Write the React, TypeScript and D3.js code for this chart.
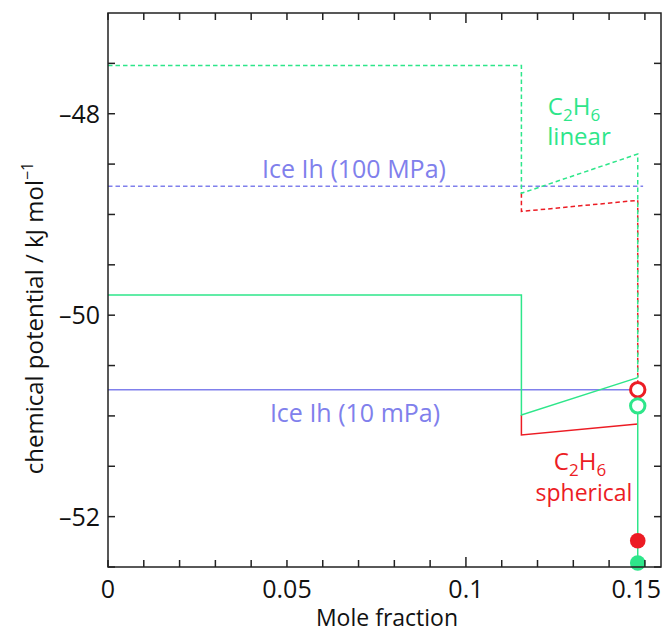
import { useEffect, useRef } from "react";
import * as d3 from "d3";

// x break points of the step curves
const xBreak = 0.1155;
const xEnd = 0.148;

// [mole fraction, chemical potential]
const linearDashed: [number, number][] = [
  [0, -47.52],
  [xBreak, -47.52],
  [xBreak, -48.79],
  [xEnd, -48.4],
  [xEnd, -50.62],
];
const sphericalDashed: [number, number][] = [
  [xBreak, -48.79],
  [xBreak, -48.97],
  [xEnd, -48.86],
  [xEnd, -50.74],
];
const ice100: [number, number][] = [
  [0, -48.72],
  [0.1495, -48.72],
];
const ice10: [number, number][] = [
  [0, -50.74],
  [xEnd, -50.74],
];
const linearSolid: [number, number][] = [
  [0, -49.8],
  [xBreak, -49.8],
  [xBreak, -50.99],
  [xEnd, -50.62],
];
const linearDrop: [number, number][] = [
  [xEnd, -50.9],
  [xEnd, -52.46],
];
const sphericalSolid: [number, number][] = [
  [xBreak, -50.99],
  [xBreak, -51.19],
  [xEnd, -51.08],
];
const openPoints = [
  { x: xEnd, y: -50.74, c: "red" },
  { x: xEnd, y: -50.9, c: "green" },
];
const filledPoints = [
  { x: xEnd, y: -52.24, c: "red" },
  { x: xEnd, y: -52.46, c: "green" },
];

const xTicks = [0, 0.05, 0.1, 0.15];
const yTicks = [-48, -50, -52];

const GREEN = "#2ee68a";
const RED = "#ec1c24";
const BLUE = "#8080ec";
const colors: Record<string, string> = { red: RED, green: GREEN };

export default function App() {
  const ref = useRef<SVGSVGElement>(null);

  useEffect(() => {
    const svg = d3.select(ref.current);
    svg.selectAll("*").remove();

    const font = "'Open Sans', sans-serif";
    const x = d3.scaleLinear().domain([0, 0.1545]).range([108, 661]);
    const y = d3.scaleLinear().domain([-52.5, -47]).range([567, 13]);
    const line = d3
      .line<[number, number]>()
      .x((d) => x(d[0]))
      .y((d) => y(d[1]));

    const plot = svg.append("g");

    const draw = (data: [number, number][], color: string, dashed: boolean) =>
      plot
        .append("path")
        .attr("d", line(data))
        .attr("fill", "none")
        .attr("stroke", color)
        .attr("stroke-width", 1.5)
        .attr("stroke-dasharray", dashed ? "4.5,3" : null);

    draw(ice100, BLUE, true);
    draw(ice10, BLUE, false);
    draw(sphericalDashed, RED, true);
    draw(linearDashed, GREEN, true);
    draw(sphericalSolid, RED, false);
    draw(linearSolid, GREEN, false);
    draw(linearDrop, GREEN, false);

    plot
      .selectAll("circle.open")
      .data(openPoints)
      .enter()
      .append("circle")
      .attr("cx", (d) => x(d.x))
      .attr("cy", (d) => y(d.y))
      .attr("r", 7.2)
      .attr("fill", "white")
      .attr("stroke", (d) => colors[d.c])
      .attr("stroke-width", 3);

    plot
      .selectAll("circle.filled")
      .data(filledPoints)
      .enter()
      .append("circle")
      .attr("cx", (d) => x(d.x))
      .attr("cy", (d) => y(d.y))
      .attr("r", 7.8)
      .attr("fill", (d) => colors[d.c]);

    // frame
    const [x0, x1] = x.range();
    const [y0, y1] = y.range();
    const axes = svg.append("g").attr("stroke", "#222").attr("stroke-width", 1.5);
    axes
      .append("rect")
      .attr("x", x0)
      .attr("y", y1)
      .attr("width", x1 - x0)
      .attr("height", y0 - y1)
      .attr("fill", "none");

    const xMinor = d3.range(0, 0.155, 0.01);
    xMinor.forEach((t) => {
      const len = Math.abs(t - 0.1) < 1e-9 ? 10 : 7;
      axes.append("line").attr("x1", x(t)).attr("x2", x(t)).attr("y1", y0).attr("y2", y0 - len);
      axes.append("line").attr("x1", x(t)).attr("x2", x(t)).attr("y1", y1).attr("y2", y1 + len);
    });
    const yMinor = d3.range(-52.5, -47, 0.5);
    yMinor.forEach((t) => {
      axes.append("line").attr("x1", x0).attr("x2", x0 + 7).attr("y1", y(t)).attr("y2", y(t));
      axes.append("line").attr("x1", x1).attr("x2", x1 - 7).attr("y1", y(t)).attr("y2", y(t));
    });

    const labels = svg.append("g").attr("font-family", font).attr("font-size", 25).attr("fill", "#111");
    labels
      .selectAll("text.xt")
      .data(xTicks)
      .enter()
      .append("text")
      .attr("x", (d, i) => (i === xTicks.length - 1 ? x1 : x(d)))
      .attr("y", 598)
      .attr("text-anchor", (d, i) => (i === xTicks.length - 1 ? "end" : "middle"))
      .text((d) => String(d));
    labels
      .selectAll("text.yt")
      .data(yTicks)
      .enter()
      .append("text")
      .attr("x", 100)
      .attr("y", (d) => y(d) + 9)
      .attr("text-anchor", "end")
      .text((d) => "\u2013" + Math.abs(d));

    labels
      .append("text")
      .attr("x", 387)
      .attr("y", 626)
      .attr("text-anchor", "middle")
      .attr("font-size", 23)
      .text("Mole fraction");

    const yl = labels
      .append("text")
      .attr("transform", "translate(43,318) rotate(-90)")
      .attr("text-anchor", "middle")
      .attr("font-size", 24);
    yl.append("tspan").text("chemical potential / kJ mol");
    yl.append("tspan").attr("font-size", 16).attr("dy", -10).text("\u22121");

    // annotations
    const note = svg.append("g").attr("font-family", font).attr("font-size", 24).attr("text-anchor", "middle");
    const formula = (cx: number, cy: number, color: string) => {
      const t = note.append("text").attr("x", cx).attr("y", cy).attr("fill", color);
      t.append("tspan").text("C");
      t.append("tspan").attr("font-size", 17).attr("dy", 6).text("2");
      t.append("tspan").attr("dy", -6).text("H");
      t.append("tspan").attr("font-size", 17).attr("dy", 6).text("6");
    };
    formula(574, 115, GREEN);
    note.append("text").attr("x", 579).attr("y", 145).attr("fill", GREEN).text("linear");
    formula(580, 470, RED);
    note.append("text").attr("x", 584).attr("y", 501).attr("fill", RED).attr("font-size", 23).text("spherical");

    note.append("text").attr("x", 354).attr("y", 178).attr("fill", BLUE).attr("font-size", 25).text("Ice Ih (100 MPa)");
    note.append("text").attr("x", 355).attr("y", 422).attr("fill", BLUE).attr("font-size", 25).text("Ice Ih (10 mPa)");
  }, []);

  return (
    <svg
      ref={ref}
      width={663}
      height={632}
      style={{ display: "block", position: "absolute", left: 0, top: 0 }}
    />
  );
}
